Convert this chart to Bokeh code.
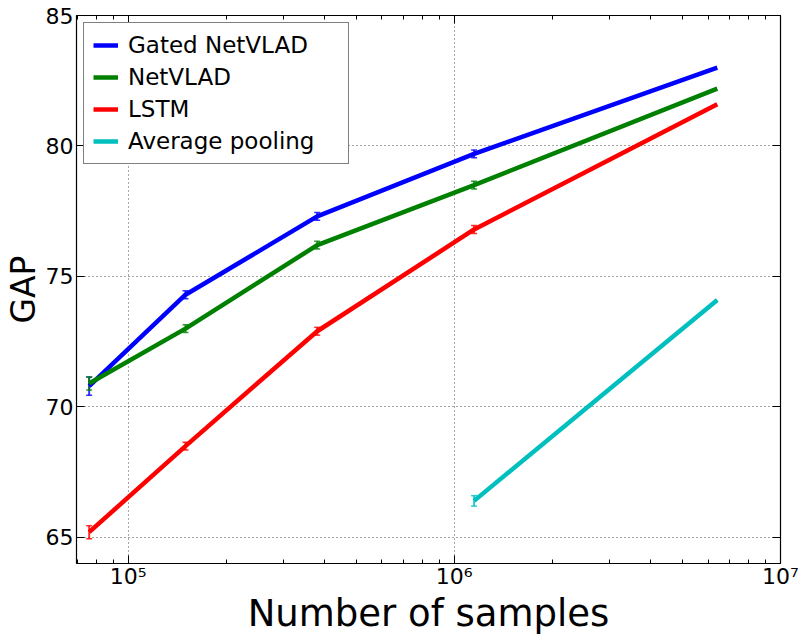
from bokeh.plotting import figure
from bokeh.models import (FixedTicker, LogAxis, LinearAxis, Whisker, TeeHead,
                          ColumnDataSource, Legend, LegendItem, Range1d)
from bokeh.embed import file_html
from bokeh.resources import INLINE

# ---- data ----
samples = [76000, 150000, 380000, 1150000, 6400000]
gated_netvlad = [70.8, 74.3, 77.3, 79.7, 83.0]
gated_err = [0.35, 0.15, 0.15, 0.15, 0.0]
netvlad = [70.9, 73.0, 76.2, 78.5, 82.2]
netvlad_err = [0.25, 0.15, 0.15, 0.15, 0.0]
lstm = [65.2, 68.5, 72.9, 76.8, 81.6]
lstm_err = [0.25, 0.15, 0.15, 0.15, 0.0]
avg_samples = [1150000, 6400000]
avg_pool = [66.4, 74.1]
avg_err = [0.2, 0.0]

x_ticks = [100000, 1000000, 10000000]
x_tick_labels = {100000: "10⁵", 1000000: "10⁶", 10000000: "10⁷"}
y_ticks = [65, 70, 75, 80, 85]

series = [
    ("Gated NetVLAD", samples, gated_netvlad, gated_err, "#0000ff"),
    ("NetVLAD", samples, netvlad, netvlad_err, "#008000"),
    ("LSTM", samples, lstm, lstm_err, "#ff0000"),
    ("Average pooling", avg_samples, avg_pool, avg_err, "#00bfbf"),
]

FONT = "DejaVu Sans"

p = figure(width=800, height=637, x_axis_type="log",
           x_range=Range1d(69500, 1e7), y_range=Range1d(64, 85),
           output_backend="svg", toolbar_location=None,
           min_border_left=76, min_border_right=20, min_border_top=15,
           min_border_bottom=70)
p.background_fill_color = "white"
p.border_fill_color = "white"
p.outline_line_color = "black"
p.outline_line_width = 1.2

minor = [m * 10 ** e for e in (4, 5, 6) for m in range(2, 10)]
xt = FixedTicker(ticks=x_ticks, minor_ticks=minor)
yt = FixedTicker(ticks=y_ticks, minor_ticks=[])

p.xaxis.ticker = xt
p.xaxis.major_label_overrides = x_tick_labels
p.yaxis.ticker = yt
for ax in (p.xaxis, p.yaxis):
    ax.major_tick_in = 8
    ax.major_tick_out = 0
    ax.minor_tick_in = 4
    ax.minor_tick_out = 0
    ax.axis_line_color = None
    ax.major_label_text_font = FONT
    ax.major_label_text_font_size = "22px"
    ax.major_label_text_color = "black"
    ax.major_tick_line_color = "black"
    ax.minor_tick_line_color = "black"
    ax.axis_label_text_font = FONT
    ax.axis_label_text_font_style = "normal"
    ax.axis_label_text_color = "black"
p.xaxis.axis_label = "Number of samples"
p.xaxis.axis_label_text_font_size = "37px"
p.xaxis.axis_label_standoff = 0
p.xaxis.major_label_standoff = 0
p.yaxis.axis_label = "GAP"
p.yaxis.axis_label_text_font_size = "33px"
p.yaxis.axis_label_standoff = 0
p.yaxis.major_label_standoff = 3

# mirrored ticks on top and right
top = LogAxis(ticker=xt, major_tick_in=8, major_tick_out=0, minor_tick_in=4,
              minor_tick_out=0, axis_line_color=None,
              major_label_text_color=None, major_label_standoff=0)
right = LinearAxis(ticker=yt, major_tick_in=8, major_tick_out=0,
                   minor_tick_in=0, minor_tick_out=0, axis_line_color=None,
                   major_label_text_color=None, major_label_standoff=0)
p.add_layout(top, "above")
p.add_layout(right, "right")

p.xgrid.ticker = FixedTicker(ticks=x_ticks)
p.ygrid.ticker = FixedTicker(ticks=y_ticks)
for g in (p.xgrid, p.ygrid):
    g.grid_line_color = "black"
    g.grid_line_alpha = 0.7
    g.grid_line_dash = "1 3"
    g.grid_line_width = 1

items = []
for name, xs, ys, es, col in series:
    src = ColumnDataSource(dict(x=xs, y=ys))
    r = p.line("x", "y", source=src, line_color=col, line_width=4.5)
    n = len(xs) - 1
    esrc = ColumnDataSource(dict(x=xs[:n],
                                 lo=[y - e for y, e in zip(ys[:n], es[:n])],
                                 hi=[y + e for y, e in zip(ys[:n], es[:n])]))
    w = Whisker(base="x", upper="hi", lower="lo", source=esrc,
                dimension="height", line_color=col, line_width=2, line_alpha=0.8,
                upper_head=TeeHead(size=6, line_color=col, line_width=1.5, line_alpha=0.8),
                lower_head=TeeHead(size=6, line_color=col, line_width=1.5, line_alpha=0.8))
    p.add_layout(w)
    items.append(LegendItem(label=name, renderers=[r]))

legend = Legend(items=items, location="top_left", margin=7,
                border_line_color="black", border_line_width=1.2,
                label_text_font=FONT, label_text_font_size="23px",
                label_text_color="black",
                glyph_width=25, glyph_height=26, label_height=26,
                label_width=211, label_standoff=10, spacing=6, padding=9,
                background_fill_alpha=1.0)
p.add_layout(legend)

open("out.html", "w").write(file_html(p, INLINE))
